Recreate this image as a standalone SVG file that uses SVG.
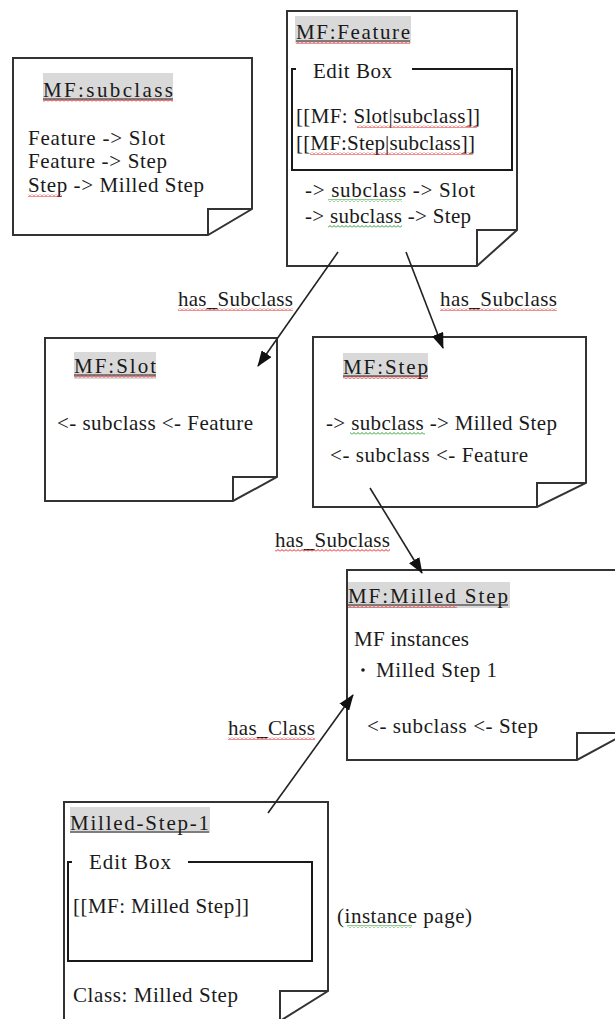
<svg xmlns="http://www.w3.org/2000/svg" width="615" height="1019" viewBox="0 0 615 1019">
  <style>
    .note { fill: #fff; stroke: #333; stroke-width: 2; stroke-linejoin: miter; }
    .fold { fill: none; stroke: #333; stroke-width: 2; }
    .ebox { fill: none; stroke: #1a1a1a; stroke-width: 2; }
    .hl { fill: #d9d9d9; }
    .ul { stroke: #222; stroke-width: 1.2; }
    text { font-family: "Liberation Serif", "Times New Roman", serif; font-size: 21px; fill: #1a1a1a; }
    .conn { stroke: #222; stroke-width: 1.6; fill: none; marker-end: url(#arrow); }
  </style>
  <defs>
    <marker id="arrow" markerUnits="userSpaceOnUse" viewBox="0 0 16 12" markerWidth="16" markerHeight="12" refX="15" refY="6" orient="auto">
      <path d="M0,0 L16,6 L0,12 Z" fill="#111"/>
    </marker>
    <pattern id="wavyRed" patternUnits="userSpaceOnUse" width="4" height="3">
      <path d="M0,2.5 L2,0.5 L4,2.5" fill="none" stroke="#e02020" stroke-width="1"/>
    </pattern>
    <pattern id="wavyGreen" patternUnits="userSpaceOnUse" width="4" height="3">
      <path d="M0,2.5 L2,0.5 L4,2.5" fill="none" stroke="#2a9a2a" stroke-width="1"/>
    </pattern>
  </defs>

  <rect width="615" height="1019" fill="#fff"/>

  <!-- MF:subclass -->
  <g id="mf-subclass">
    <path class="note" d="M13,58 H252 V209 L208,235 H13 Z"/>
    <path class="fold" d="M208,235 V209 H252"/>
    <rect class="hl" x="43" y="73" width="130" height="28"/>
    <text x="43" y="97" textLength="130">MF:subclass</text>
    <line class="ul" x1="43" y1="99" x2="173" y2="99"/>
    <rect x="43" y="99" width="130" height="3" fill="url(#wavyRed)"/>
    <text x="28" y="145" textLength="137">Feature -&gt; Slot</text>
    <text x="28" y="168" textLength="139">Feature -&gt; Step</text>
    <text x="28" y="192" textLength="176">Step -&gt; Milled Step</text>
    <rect x="28" y="194" width="34" height="3" fill="url(#wavyRed)"/>
  </g>

  <!-- MF:Feature -->
  <g id="mf-feature">
    <path class="note" d="M287,11 H517 V230 L477,266 H287 Z"/>
    <path class="fold" d="M477,266 V230 H517"/>
    <rect class="hl" x="295" y="16" width="116" height="27"/>
    <text x="296" y="39" textLength="114">MF:Feature</text>
    <line class="ul" x1="296" y1="41" x2="410" y2="41"/>
    <rect x="296" y="41" width="114" height="3" fill="url(#wavyRed)"/>
    <path class="ebox" d="M296,69 H292 V170 H512 V69 H412"/>
    <text x="313" y="78" textLength="79">Edit Box</text>
    <text x="296" y="123" textLength="184">[[MF: Slot|subclass]]</text>
    <rect x="357" y="125" width="120" height="3" fill="url(#wavyRed)"/>
    <text x="296" y="150" textLength="179">[[MF:Step|subclass]]</text>
    <rect x="310" y="152" width="163" height="3" fill="url(#wavyRed)"/>
    <text x="305" y="197" textLength="170">-&gt; subclass  -&gt; Slot</text>
    <rect x="328" y="199" width="74" height="3" fill="url(#wavyGreen)"/>
    <text x="305" y="223" textLength="166">-&gt; subclass -&gt; Step</text>
    <rect x="328" y="225" width="74" height="3" fill="url(#wavyGreen)"/>
  </g>

  <!-- MF:Slot -->
  <g id="mf-slot">
    <path class="note" d="M45,338 H277 V477 L233,501 H45 Z"/>
    <path class="fold" d="M233,501 V477 H277"/>
    <rect class="hl" x="74" y="352" width="82" height="27"/>
    <text x="74" y="373" textLength="82">MF:Slot</text>
    <line class="ul" x1="74" y1="375" x2="156" y2="375"/>
    <rect x="74" y="375" width="82" height="3" fill="url(#wavyRed)"/>
    <text x="57" y="430" textLength="196">&lt;- subclass  &lt;- Feature</text>
  </g>

  <!-- MF:Step -->
  <g id="mf-step">
    <path class="note" d="M313,337 H586 V483 L537,507 H313 Z"/>
    <path class="fold" d="M537,507 V483 H586"/>
    <rect class="hl" x="343" y="353" width="85" height="26"/>
    <text x="343" y="374" textLength="85">MF:Step</text>
    <line class="ul" x1="343" y1="376" x2="428" y2="376"/>
    <rect x="343" y="376" width="85" height="3" fill="url(#wavyRed)"/>
    <text x="326" y="430" textLength="231">-&gt; subclass -&gt; Milled Step</text>
    <rect x="350" y="432" width="75" height="3" fill="url(#wavyGreen)"/>
    <text x="330" y="462" textLength="198">&lt;- subclass  &lt;- Feature</text>
  </g>

  <!-- MF:Milled_Step -->
  <g id="mf-milled-step">
    <path class="note" d="M347,570 H627 V733 L577,760 H347 Z"/>
    <path class="fold" d="M577,760 V733 H627"/>
    <rect class="hl" x="348" y="582" width="162" height="26"/>
    <text x="348" y="603" textLength="160">MF:Milled  Step</text>
    <line class="ul" x1="348" y1="605" x2="508" y2="605"/>
    <rect x="348" y="605" width="109" height="3" fill="url(#wavyRed)"/>
    <text x="354" y="646" textLength="115">MF instances</text>
    <circle cx="363" cy="670" r="1.8" fill="#1a1a1a"/>
    <text x="376" y="677" textLength="121">Milled Step 1</text>
    <text x="367" y="733" textLength="171">&lt;- subclass  &lt;- Step</text>
  </g>

  <!-- Milled-Step-1 instance page -->
  <g id="milled-step-1">
    <path class="note" d="M64,802 H328 V991 L280,1021 H64 Z"/>
    <path class="fold" d="M280,1021 V991 H328"/>
    <rect class="hl" x="70" y="807" width="140" height="26"/>
    <text x="70" y="830" textLength="139">Milled-Step-1</text>
    <line class="ul" x1="70" y1="832" x2="209" y2="832"/>
    <path class="ebox" d="M72,862 H68 V961 H312 V862 H188"/>
    <text x="89" y="869" textLength="82">Edit Box</text>
    <text x="73" y="913" textLength="176">[[MF: Milled Step]]</text>
    <text x="73" y="1002" textLength="165">Class: Milled Step</text>
  </g>

  <g id="instance-page-note">
    <text x="337" y="923" textLength="135">(instance  page)</text>
    <rect x="347" y="925" width="65" height="3" fill="url(#wavyGreen)"/>
  </g>

  <!-- connectors, drawn over the notes so the heads stay visible -->
  <g id="connectors">
    <line class="conn" x1="338" y1="252" x2="258" y2="366"/>
    <line class="conn" x1="406" y1="252" x2="443" y2="348"/>
    <line class="conn" x1="370" y1="488" x2="422" y2="573"/>
    <line class="conn" x1="268" y1="813" x2="353" y2="695"/>
    <text x="178" y="306" textLength="115">has_Subclass</text>
    <rect x="178" y="308" width="115" height="3" fill="url(#wavyRed)"/>
    <text x="440" y="306" textLength="117">has_Subclass</text>
    <rect x="440" y="308" width="117" height="3" fill="url(#wavyRed)"/>
    <text x="275" y="547" textLength="115">has_Subclass</text>
    <rect x="275" y="549" width="115" height="3" fill="url(#wavyRed)"/>
    <text x="228" y="735" textLength="87">has_Class</text>
    <rect x="228" y="737" width="87" height="3" fill="url(#wavyRed)"/>
  </g>
</svg>
